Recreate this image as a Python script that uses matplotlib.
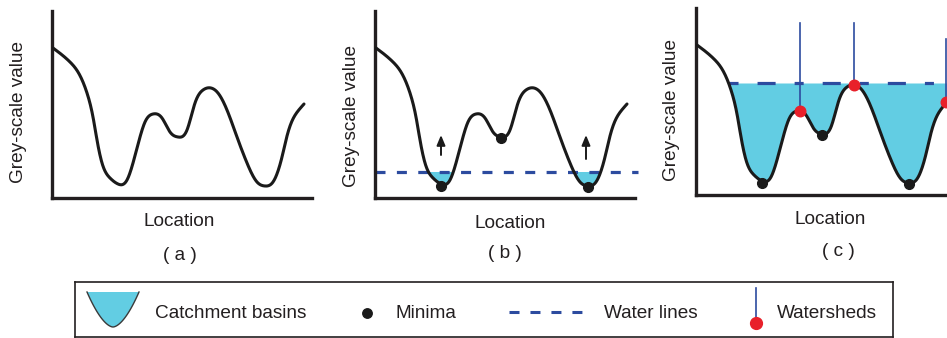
import numpy as np
import matplotlib
matplotlib.use("Agg")
import matplotlib.pyplot as plt
from matplotlib.patches import Polygon

plt.rcParams['font.family'] = ['Liberation Sans', 'DejaVu Sans']
plt.rcParams['lines.scale_dashes'] = False

# ---------------- data ----------------
location = [1, 18, 26, 35, 41, 45, 50, 58, 66, 75, 81, 88, 93, 101, 110, 118,
            126, 135, 143, 151, 159, 166, 175, 185, 195, 205, 213, 221, 230,
            235, 240, 246, 252]
grey_value = [150, 136, 126, 105, 81, 58, 35, 20, 14, 18, 35, 61, 76, 84, 80,
              66, 61, 68, 95, 108, 110, 105, 88, 61, 35, 16, 12, 16, 41,
              62, 77, 87, 94]

minima_loc = [66, 126, 213]
minima_val = [12, 60, 11]

water_level_b = 26
water_level_c = 112
arrow_loc = [66, 211]
arrow_from = [43, 39]
arrow_to = [63, 63]

watershed_loc = [104, 158, 250]
watershed_val = [84, 110, 93]
watershed_top = [172, 172, 156]

panel_labels = ['( a )', '( b )', '( c )']
legend_labels = ['Catchment basins', 'Minima', 'Water lines', 'Watersheds']

# ---------------- styles ----------------
W, H = 947, 338
TXT = '#231f20'
CURVE = '#1a1a1a'
CYAN = '#62cde3'
BLUE = '#2c4b9f'
RED = '#e8202a'
FS = 13.7


def natural_spline(x, y, n=800):
    x = np.asarray(x, float)
    y = np.asarray(y, float)
    m = len(x)
    h = np.diff(x)
    A = np.zeros((m, m))
    b = np.zeros(m)
    A[0, 0] = A[-1, -1] = 1
    for i in range(1, m - 1):
        A[i, i - 1] = h[i - 1]
        A[i, i] = 2 * (h[i - 1] + h[i])
        A[i, i + 1] = h[i]
        b[i] = 3 * ((y[i + 1] - y[i]) / h[i] - (y[i] - y[i - 1]) / h[i - 1])
    c = np.linalg.solve(A, b)
    bb = (y[1:] - y[:-1]) / h - h * (2 * c[:-1] + c[1:]) / 3
    d = (c[1:] - c[:-1]) / (3 * h)
    xs = np.linspace(x[0], x[-1], n)
    idx = np.clip(np.searchsorted(x, xs) - 1, 0, m - 2)
    dx = xs - x[idx]
    ys = y[idx] + bb[idx] * dx + c[idx] * dx ** 2 + d[idx] * dx ** 3
    return xs, ys


xs, ys = natural_spline(location, grey_value)

fig = plt.figure(figsize=(W / 100, H / 100), dpi=100)


def add_panel(L, T, R, B):
    ax = fig.add_axes([L / W, 1 - B / H, (R - L) / W, (B - T) / H])
    ax.set_xlim(0, R - L)
    ax.set_ylim(0, B - T)
    ax.patch.set_alpha(0)
    for s in ['top', 'right']:
        ax.spines[s].set_visible(False)
    for s in ['left', 'bottom']:
        ax.spines[s].set_linewidth(2.4)
        ax.spines[s].set_color(TXT)
    ax.set_xticks([])
    ax.set_yticks([])
    return ax


def frac(L, T, R, B, px, py):
    return (px - L) / (R - L), (B - py) / (B - T)


boxes = [(52, 11, 312, 198), (375, 11, 635, 198), (696, 8, 956, 195)]
ylab_pos = [(18, 112), (351, 116), (671, 110)]
xlab_pos = [(179, 222), (510, 223), (830, 220)]
cap_pos = [(180, 255), (505, 254), (838, 252)]

axes = []
for k, box in enumerate(boxes):
    ax = add_panel(*box)
    axes.append(ax)
    ax.plot(xs, ys, color=CURVE, lw=2.2, solid_capstyle='round', zorder=3)
    ax.set_xlabel('Location', fontsize=FS, color=TXT)
    ax.xaxis.set_label_coords(*frac(*box, *xlab_pos[k]))
    ax.xaxis.label.set_va('center')
    ax.set_ylabel('Grey-scale value', fontsize=FS, color=TXT)
    ax.yaxis.set_label_coords(*frac(*box, *ylab_pos[k]))
    ax.yaxis.label.set_va('center')
    ax.yaxis.label.set_ha('center')
    ax.text(*frac(*box, *cap_pos[k]), panel_labels[k], transform=ax.transAxes,
            ha='center', va='center', fontsize=FS, color=TXT, clip_on=False)

# ---- panel (b) ----
ax = axes[1]
ax.fill_between(xs, ys, water_level_b, where=ys <= water_level_b,
                color=CYAN, lw=0, zorder=1, interpolate=True)
ax.plot([0, 263], [water_level_b, water_level_b], color=BLUE, lw=2.3,
        dashes=(7.2, 8.2), dash_capstyle='butt', clip_on=False, zorder=2)
ax.plot(minima_loc, minima_val, 'o', color=CURVE, ms=7, zorder=4)
for xl, y0, y1 in zip(arrow_loc, arrow_from, arrow_to):
    ax.annotate('', xy=(xl, y1), xytext=(xl, y0),
                arrowprops=dict(arrowstyle='-|>,head_length=0.6,head_width=0.25',
                                color=CURVE, lw=1.4, shrinkA=0, shrinkB=0),
                zorder=4)

# ---- panel (c) ----
ax = axes[2]
ax.fill_between(xs, ys, water_level_c, where=ys <= water_level_c,
                color=CYAN, lw=0, zorder=1, interpolate=True)
start = xs[np.argmax(ys <= water_level_c)]
ax.plot([start, 262], [water_level_c, water_level_c], color=BLUE, lw=2.3,
        dashes=(6.5, 13.7, 13.0, 13.7), dash_capstyle='butt',
        clip_on=False, zorder=2)
ax.plot(minima_loc, minima_val, 'o', color=CURVE, ms=7, zorder=4)
for xl, yv, yt in zip(watershed_loc, watershed_val, watershed_top):
    ax.plot([xl, xl], [yv, yt], color=BLUE, lw=1.2, zorder=5, clip_on=False)
ax.plot(watershed_loc, watershed_val, 'o', color=RED, ms=7.6, zorder=6,
        clip_on=False)

# ---------------- legend box ----------------
lax = fig.add_axes([75 / W, 1 - 337 / H, (893 - 75) / W, (337 - 282) / H])
lax.set_xlim(75, 893)
lax.set_ylim(337, 282)
lax.set_xticks([])
lax.set_yticks([])
for s in lax.spines.values():
    s.set_linewidth(1.2)
    s.set_color(TXT)

t = np.linspace(-1, 1, 80)
bx = 113 + 26 * t
by = 292 + 35 * (1 - np.abs(t) ** 1.7)
lax.add_patch(Polygon(np.column_stack([bx, by]), closed=True, facecolor=CYAN,
                      edgecolor='none', zorder=1))
lax.plot(bx, by, color='#3a3a3a', lw=1.0, zorder=2)

lax.plot([367], [313], 'o', color=CURVE, ms=6.8)
lax.plot([509, 584], [312, 312], color=BLUE, lw=2.2, dashes=(7.2, 7.9),
         dash_capstyle='butt')
lax.plot([756, 756], [288, 323], color=BLUE, lw=1.2)
lax.plot([756], [323], 'o', color=RED, ms=8.5)

for xt, lab in zip([155, 395, 604, 777], legend_labels):
    lax.text(xt, 313.5, lab, ha='left', va='center', fontsize=FS, color=TXT)

fig.savefig('out.png', dpi=100)
